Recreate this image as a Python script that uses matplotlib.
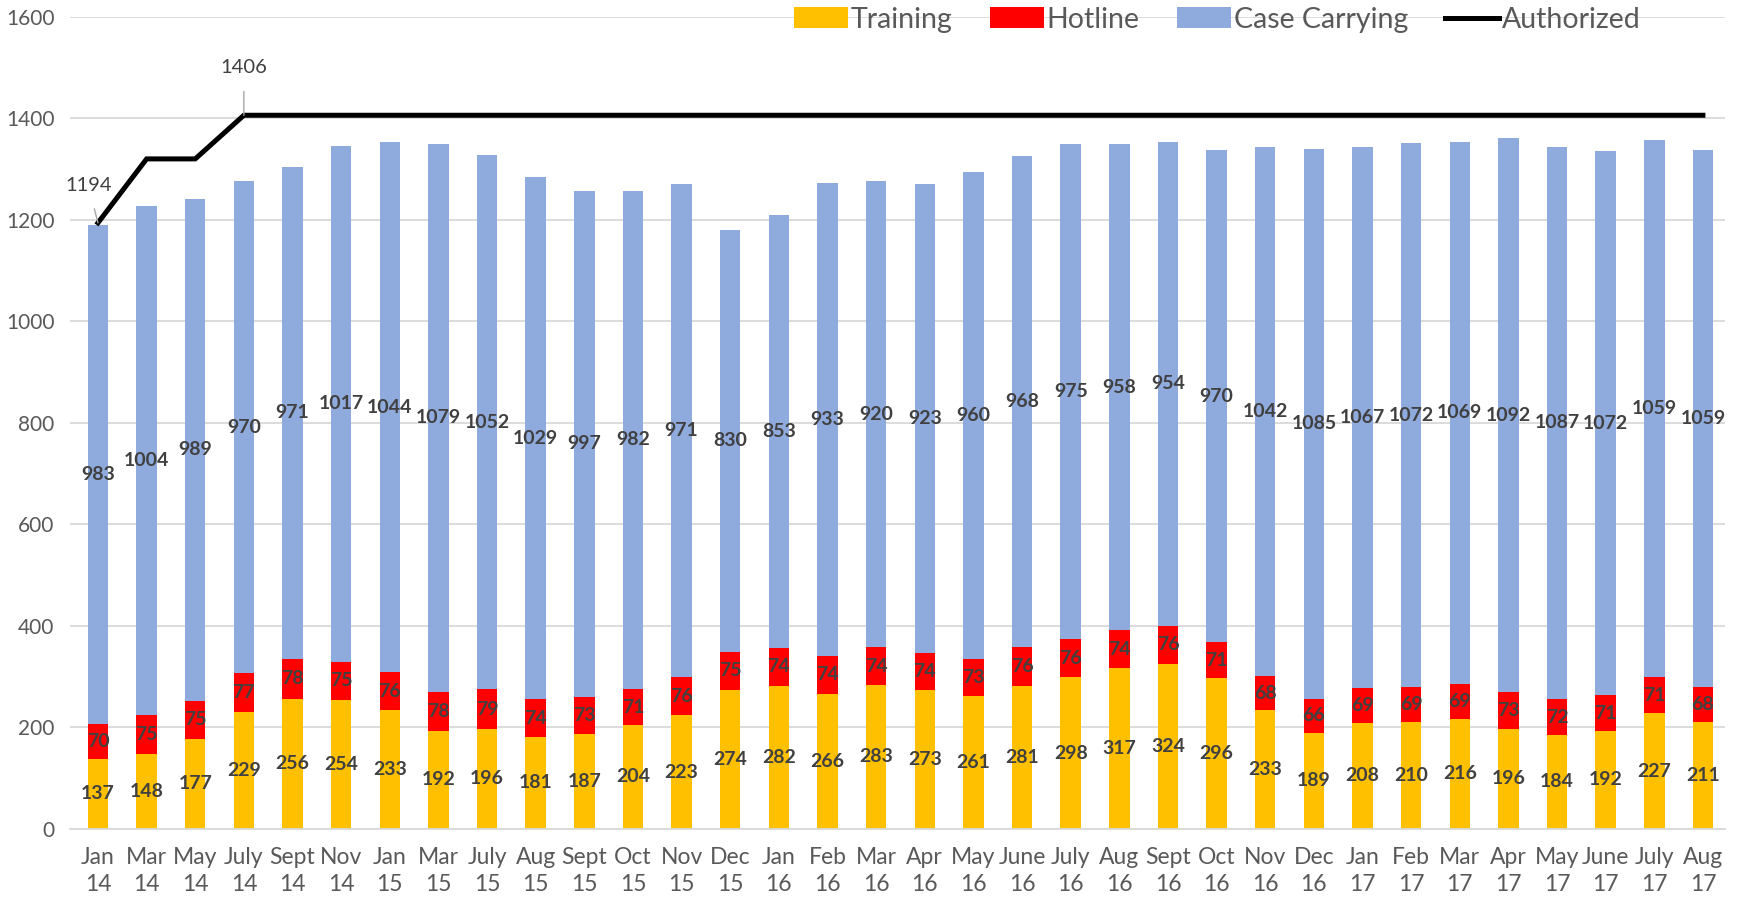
import matplotlib.pyplot as plt
import numpy as np

plt.rcParams['font.family'] = ['Lato', 'DejaVu Sans']

# data
meses = ['Jan\n14', 'Mar\n14', 'May\n14', 'July\n14', 'Sept\n14', 'Nov\n14', 'Jan\n15', 'Mar\n15',
         'July\n15', 'Aug\n15', 'Sept\n15', 'Oct\n15', 'Nov\n15', 'Dec\n15', 'Jan\n16', 'Feb\n16',
         'Mar\n16', 'Apr\n16', 'May\n16', 'June\n16', 'July\n16', 'Aug\n16', 'Sept\n16', 'Oct\n16',
         'Nov\n16', 'Dec\n16', 'Jan\n17', 'Feb\n17', 'Mar\n17', 'Apr\n17', 'May\n17', 'June\n17',
         'July\n17', 'Aug\n17']
training = [137, 148, 177, 229, 256, 254, 233, 192, 196, 181, 187, 204, 223, 274, 282, 266, 283,
            273, 261, 281, 298, 317, 324, 296, 233, 189, 208, 210, 216, 196, 184, 192, 227, 211]
hotline = [70, 75, 75, 77, 78, 75, 76, 78, 79, 74, 73, 71, 76, 75, 74, 74, 74, 74, 73, 76, 76,
           74, 76, 71, 68, 66, 69, 69, 69, 73, 72, 71, 71, 68]
case_carrying = [983, 1004, 989, 970, 971, 1017, 1044, 1079, 1052, 1029, 997, 982, 971, 830, 853,
                 933, 920, 923, 960, 968, 975, 958, 954, 970, 1042, 1085, 1067, 1072, 1069, 1092,
                 1087, 1072, 1059, 1059]
authorized = [1194, 1320, 1320] + [1406] * 31

x = np.arange(len(meses))
training = np.array(training)
hotline = np.array(hotline)
case_carrying = np.array(case_carrying)

fig = plt.figure(figsize=(17.44, 9), dpi=100)
ax = fig.add_axes([0.04, 0.0793, 0.949, 0.902])

ancho = 0.42
b1 = ax.bar(x, training, ancho, color='#FFC000', label='Training', zorder=2)
b2 = ax.bar(x, hotline, ancho, bottom=training, color='#FF0000', label='Hotline', zorder=2)
b3 = ax.bar(x, case_carrying, ancho, bottom=training + hotline, color='#8FAADC',
            label='Case Carrying', zorder=2)
linea, = ax.plot(x, authorized, color='black', lw=3.6, label='Authorized', zorder=3,
                 solid_joinstyle='miter')

for barras in (b1, b2, b3):
    ax.bar_label(barras, label_type='center', fontsize=14, fontweight='bold', color='#404040')

# etiquetas de la linea
ax.annotate(str(authorized[0]), xy=(x[0], authorized[0]), xytext=(x[0] - 0.2, 1268),
            ha='center', va='center', fontsize=14.5, color='#404040',
            arrowprops=dict(arrowstyle='-', color='#A6A6A6', lw=1, shrinkA=9, shrinkB=0))
ax.annotate(str(authorized[3]), xy=(x[3], authorized[3]), xytext=(x[3], 1500),
            ha='center', va='center', fontsize=14.5, color='#404040',
            arrowprops=dict(arrowstyle='-', color='#A6A6A6', lw=1, shrinkA=9, shrinkB=0))

ax.set_ylim(0, 1600)
ax.set_xlim(-0.58, 33.45)
ax.set_yticks(range(0, 1601, 200))
ax.set_xticks(x)
ax.set_xticklabels(meses, linespacing=1.35)
ax.tick_params(axis='x', length=0, labelsize=16.5, labelcolor='#595959', pad=13)
ax.tick_params(axis='y', length=0, labelsize=15, labelcolor='#595959', pad=11)
ax.grid(axis='y', color='#D9D9D9', lw=1.3, zorder=0)
ax.set_axisbelow(True)
for s in ['top', 'right', 'left']:
    ax.spines[s].set_visible(False)
ax.spines['bottom'].set_color('#D9D9D9')
ax.spines['bottom'].set_linewidth(1.3)

leg = fig.legend(handles=[b1, b2, b3, linea], loc='center', bbox_to_anchor=(0.698, 0.978),
                 ncol=4, frameon=False, fontsize=20.5, handlelength=1.9, handleheight=0.75,
                 handletextpad=0.1, columnspacing=1.3, labelcolor='#595959')

plt.savefig('out.png')
